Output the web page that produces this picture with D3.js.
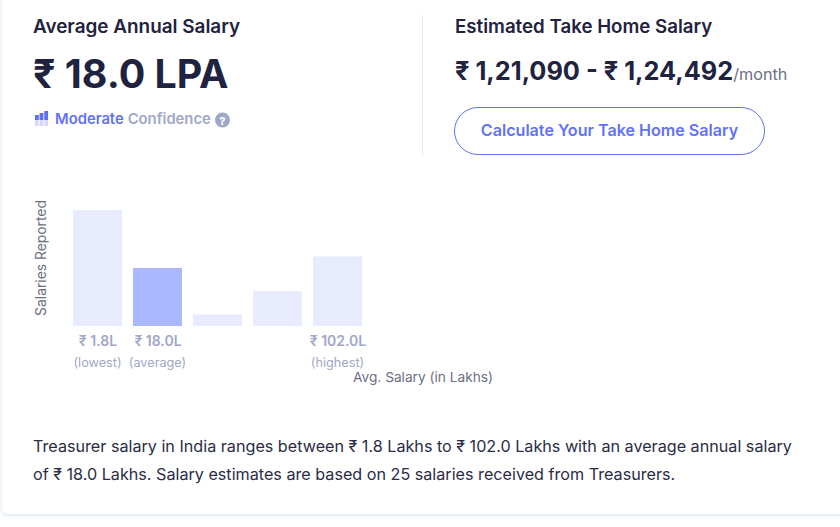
<!DOCTYPE html>
<html>
<head>
<meta charset="utf-8">
<script src="https://cdn.jsdelivr.net/npm/d3@7"></script>
<style>
  html, body { margin: 0; padding: 0; background: #fff; overflow: hidden; }
  text { font-family: Inter, "Noto Sans", sans-serif; }
</style>
</head>
<body>
<script>
const width = 840, height = 527;

const bins = ["b1", "b2", "b3", "b4", "b5"];
const counts = [10, 5, 1, 3, 6];
const highlighted = "b2";
const binLabels = ["₹ 1.8L", "₹ 18.0L", "", "", "₹ 102.0L"];
const binNotes = ["(lowest)", "(average)", "", "", "(highest)"];
const confidenceBars = [11, 13, 15];

const paragraph = [
    "Treasurer salary in India ranges between ₹ 1.8 Lakhs to ₹ 102.0 Lakhs with an average annual salary",
    "of ₹ 18.0 Lakhs. Salary estimates are based on 25 salaries received from Treasurers."
];

const svg = d3.select("body").append("svg")
    .attr("width", width)
    .attr("height", height)
    .style("display", "block");

// card with soft shadow
const defs = svg.append("defs");
const blur = defs.append("filter").attr("id", "cardShadow")
    .attr("x", "-5%").attr("y", "-5%").attr("width", "110%").attr("height", "110%");
blur.append("feDropShadow")
    .attr("dx", 0).attr("dy", 1).attr("stdDeviation", 2.5)
    .attr("flood-color", "#c9d6ea").attr("flood-opacity", 0.7);

svg.append("rect")
    .attr("x", 2).attr("y", -20)
    .attr("width", 870).attr("height", 534)
    .attr("rx", 6)
    .attr("fill", "#fff")
    .attr("filter", "url(#cardShadow)");

function label(x, y, str, size, weight, color) {
    return svg.append("text")
        .attr("x", x).attr("y", y)
        .attr("font-size", size)
        .attr("font-weight", weight)
        .attr("fill", color)
        .text(str);
}

const ink = "#1f2340";

// left header
label(33, 33, "Average Annual Salary", 18.9, 600, ink);
label(33, 88, "₹ 18.0 LPA", 39.4, 700, ink);

// confidence icon: pale bars, filled down to the same level
const iconX = d3.scaleBand().domain(d3.range(confidenceBars.length)).range([34, 49]).padding(0.2);
const iconY = d3.scaleLinear().domain([0, 15]).range([126, 111]);
const icon = svg.append("g");
icon.selectAll(".pale")
    .data(confidenceBars)
    .enter().append("rect")
    .attr("class", "pale")
    .attr("x", (d, i) => iconX(i))
    .attr("y", d => iconY(d))
    .attr("width", iconX.bandwidth())
    .attr("height", d => iconY(0) - iconY(d))
    .attr("fill", "#d5d9fb");
icon.selectAll(".solid")
    .data(confidenceBars)
    .enter().append("rect")
    .attr("class", "solid")
    .attr("x", (d, i) => iconX(i))
    .attr("y", d => iconY(d))
    .attr("width", iconX.bandwidth())
    .attr("height", d => iconY(6) - iconY(d))
    .attr("fill", "#5f6ff0");

const conf = label(55, 124, "", 14.8, 600, "#6272f5");
conf.append("tspan").text("Moderate");
conf.append("tspan").attr("dx", 4).attr("fill", "#a1a7c6").text("Confidence");

svg.append("circle").attr("cx", 222.5).attr("cy", 120).attr("r", 7.5).attr("fill", "#a1a7c6");
label(222.5, 124.5, "?", 11, 800, "#fff").attr("text-anchor", "middle");

// divider
svg.append("line")
    .attr("x1", 422.5).attr("x2", 422.5)
    .attr("y1", 15).attr("y2", 155)
    .attr("stroke", "#e5e6ef");

// right header
label(455, 33, "Estimated Take Home Salary", 18.7, 600, ink);
const take = label(455, 80, "₹ 1,21,090 - ₹ 1,24,492", 25.3, 700, ink);
take.append("tspan")
    .attr("font-size", 16.2).attr("font-weight", 400).attr("fill", "#6d6f85")
    .text("/month");

svg.append("rect")
    .attr("x", 454.5).attr("y", 107.5)
    .attr("width", 310).attr("height", 47)
    .attr("rx", 23.5)
    .attr("fill", "#fff")
    .attr("stroke", "#5f73f0");
label(609.5, 136, "Calculate Your Take Home Salary", 16.1, 600, "#6272f5").attr("text-anchor", "middle");

// histogram
const x = d3.scaleBand()
    .domain(bins)
    .range([67.5, 367.5])
    .paddingInner(11 / 60)
    .paddingOuter(5.5 / 60);

const y = d3.scaleLinear()
    .domain([0, 10])
    .range([326, 210]);

svg.append("g").selectAll("rect")
    .data(counts)
    .enter().append("rect")
    .attr("x", (d, i) => x(bins[i]))
    .attr("y", d => y(d))
    .attr("width", x.bandwidth())
    .attr("height", d => y(0) - y(d))
    .attr("fill", (d, i) => bins[i] === highlighted ? "#aab8ff" : "#e8ebfe");

const center = i => x(bins[i]) + x.bandwidth() / 2;

svg.append("g").selectAll("text")
    .data(binLabels)
    .enter().append("text")
    .attr("x", (d, i) => center(i) + 0.5)
    .attr("y", 346)
    .attr("text-anchor", "middle")
    .attr("font-size", 14)
    .attr("font-weight", 600)
    .attr("fill", "#a1a7c6")
    .text(d => d);

svg.append("g").selectAll("text")
    .data(binNotes)
    .enter().append("text")
    .attr("x", (d, i) => center(i))
    .attr("y", 367)
    .attr("text-anchor", "middle")
    .attr("font-size", 12.7)
    .attr("fill", "#a1a7c6")
    .text(d => d);

// axis titles
svg.append("text")
    .attr("transform", "translate(46,258) rotate(-90)")
    .attr("text-anchor", "middle")
    .attr("font-size", 13.85)
    .attr("fill", "#6d6f85")
    .text("Salaries Reported");

label(353, 382, "Avg. Salary (in Lakhs)", 13.7, 400, "#6d6f85");

// summary
svg.append("g").selectAll("text")
    .data(paragraph)
    .enter().append("text")
    .attr("x", 33)
    .attr("y", (d, i) => 452 + i * 28)
    .attr("font-size", 16.17)
    .attr("fill", "#2a2d45")
    .text(d => d);
</script>
</body>
</html>
